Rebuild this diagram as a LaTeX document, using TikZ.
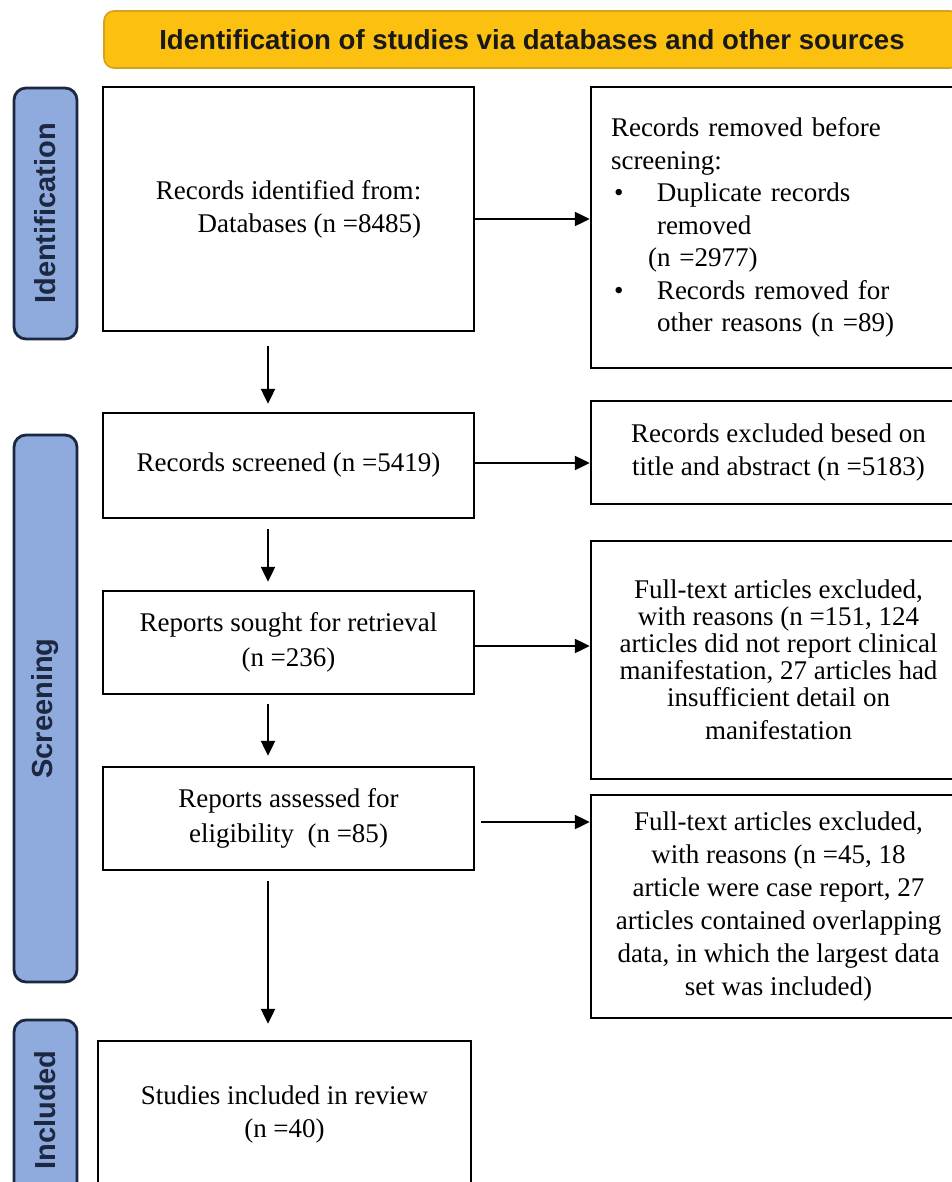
\documentclass[tikz,border=0pt]{standalone}
\usepackage{fontspec}
\setmainfont{Liberation Serif}
\setsansfont{Liberation Sans}
\usetikzlibrary{arrows.meta}

\definecolor{bannerfill}{HTML}{FCC010}
\definecolor{bannerline}{HTML}{D6A21E}
\definecolor{phasefill}{HTML}{8FAADC}
\definecolor{phaseline}{HTML}{1C2740}

\tikzset{
  box/.style={draw=black, line width=1.2pt, fill=white, align=center, inner sep=0pt,
    font=\fontsize{13.5}{16.5}\selectfont},
  phase/.style={draw=phaseline, line width=1.4pt, fill=phasefill, rounded corners=6pt,
    rotate=90, inner sep=0pt, text=phaseline, font=\sffamily\bfseries\fontsize{14.5}{16}\selectfont},
  flow/.style={line width=1.1pt, -{Triangle[length=7.5pt,width=7pt]}},
}

\begin{document}
\begin{tikzpicture}[x=0.5pt, y=-0.5pt]
	\useasboundingbox (0,0) rectangle (952,1182);
	\clip (0,0) rectangle (952,1182);

	% banner
	\node[draw=bannerline, fill=bannerfill, line width=0.8pt, rounded corners=5pt, minimum width=428pt, minimum height=28.5pt,
	  text=black!90, font=\sffamily\bfseries\fontsize{13.8}{15}\selectfont] (banner) at (532,39.5) {Identification of studies via databases and other sources};

	% phases
	\node[phase, minimum width=125.5pt, minimum height=31.5pt] (ident) at (45.5,213.5) {Identification};
	\node[phase, minimum width=273.5pt, minimum height=31.5pt] (screen) at (45.5,708.5) {Screening};
	\node[phase, minimum width=90pt, minimum height=31.5pt] (inclphase) at (45.5,1110) {Included};

	% main column
	\node[box, align=right, minimum width=185.5pt, minimum height=122pt] (recid) at (288.5,209) {Records identified from:\\Databases (n =8485)};
	\node[box, minimum width=185.5pt, minimum height=52.5pt] (recscr) at (288.5,465.5) {Records screened (n =5419)};
	\node[box, font=\fontsize{13.5}{17.5}\selectfont, minimum width=185.5pt, minimum height=51.5pt] (sought) at (288.5,642.5) {Reports sought for retrieval\\(n =236)};
	\node[box, font=\fontsize{13.5}{17.5}\selectfont, minimum width=185.5pt, minimum height=51.5pt] (assess) at (288.5,818.5) {Reports assessed for\\eligibility~~(n =85)};
	\node[box, minimum width=186.5pt, minimum height=73pt] (studies) at (284.5,1114) {Studies included in review\\(n =40)};

	% side column
	\node[box, align=left, text width=167.5pt, minimum width=187.5pt, minimum height=140.5pt, font=\fontsize{13.5}{16.25}\selectfont] (remov) at (778.5,227.5) {Records removed before\\
	  screening:\\
	  \makebox[23pt][l]{\hspace{1.5pt}\textbullet}Duplicate records\\
	  \hspace*{23pt}removed\\
	  \hspace*{18.5pt}(n =2977)\\
	  \makebox[23pt][l]{\hspace{1.5pt}\textbullet}Records removed for\\
	  \hspace*{23pt}other reasons (n =89)};
	\node[box, minimum width=187.5pt, minimum height=51.5pt] (exclabs) at (778.5,452.5) {Records excluded besed on\\title and abstract (n =5183)};
	\node[box, minimum width=187.5pt, minimum height=119pt, font=\fontsize{13.5}{13.5}\selectfont] (exclfull) at (778.5,660) {Full-text articles excluded,\\with reasons (n =151, 124\\articles did not report clinical\\manifestation, 27 articles had\\insufficient detail on\\[3pt]manifestation};
	\node[box, minimum width=187.5pt, minimum height=111.5pt] (excldup) at (778.5,906.5) {Full-text articles excluded,\\with reasons (n =45, 18\\article were case report, 27\\articles contained overlapping\\data, in which the largest data\\set was included)};

	% connectors
	\coordinate (spine) at (268,0);
	\draw[flow, shorten <=7pt, shorten >=4pt] (recid.south -| spine) -- (recscr.north -| spine);
	\draw[flow, shorten <=5pt, shorten >=4pt] (recscr.south -| spine) -- (sought.north -| spine);
	\draw[flow, shorten <=4.5pt, shorten >=5pt] (sought.south -| spine) -- (assess.north -| spine);
	\draw[flow, shorten <=5pt, shorten >=8pt] (assess.south -| spine) -- (studies.north -| spine);

	\draw[flow] ([yshift=-5pt]recid.east) -- ([yshift=-5pt]recid.east -| remov.west);
	\draw[flow] ([yshift=1.25pt]recscr.east) -- ([yshift=1.25pt]recscr.east -| exclabs.west);
	\draw[flow] ([yshift=-1.75pt]sought.east) -- ([yshift=-1.75pt]sought.east -| exclfull.west);
	\draw[flow, shorten <=3pt] ([yshift=-1.75pt]assess.east) -- ([yshift=-1.75pt]assess.east -| excldup.west);
\end{tikzpicture}
\end{document}
